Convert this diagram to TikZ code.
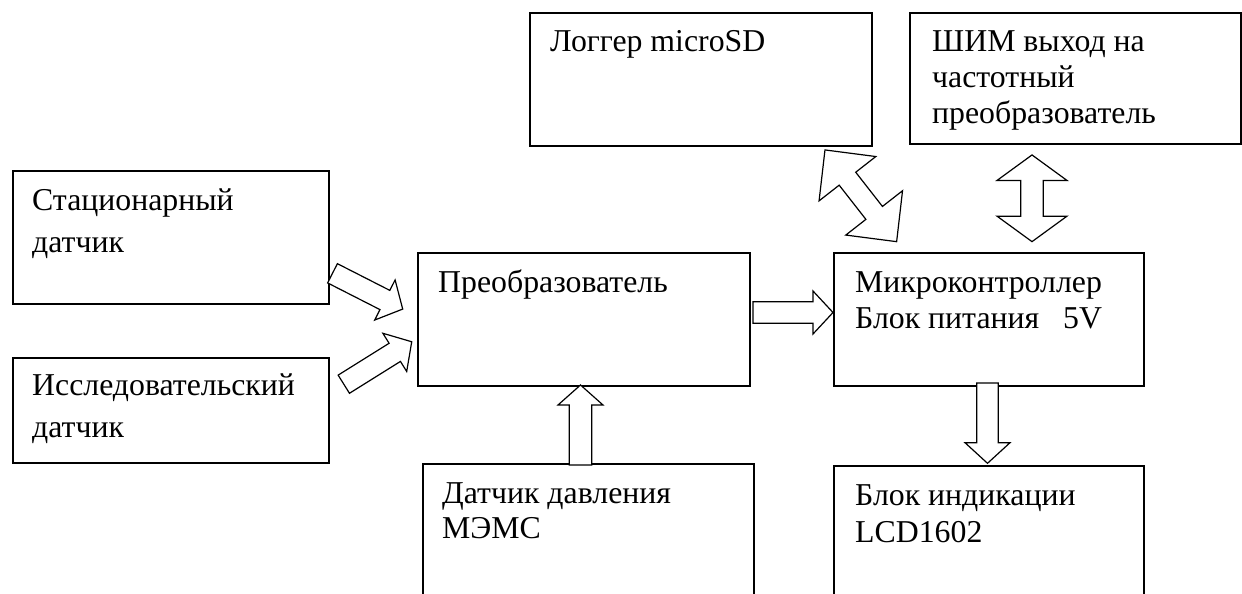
\documentclass[tikz,border=0pt]{standalone}
\usepackage{fontspec}
\setmainfont{Liberation Serif}
\tikzset{
  box/.style={draw=black, line width=1.6pt, rectangle, inner sep=0pt, anchor=north west},
  lbl/.style={anchor=base west, inner sep=0pt, font=\fontsize{31.8}{36}\selectfont},
  barrow/.style={draw=black, line width=1.2pt, line join=miter, fill=white}
}
% single block arrow: tail point, angle, length, shaft half-width, head half-width, head length
\newcommand{\barr}[6]{\draw[barrow,shift={(#1)},rotate=#2] (0,-#4) -- ({#3-#6},-#4) -- ({#3-#6},-#5) -- (#3,0) -- ({#3-#6},#5) -- ({#3-#6},#4) -- (0,#4) -- cycle;}
% double block arrow: centre, angle, length, shaft half-width, head half-width, head length
\newcommand{\dbarr}[6]{\draw[barrow,shift={(#1)},rotate=#2] ({-#3/2+#6},-#4) -- ({#3/2-#6},-#4) -- ({#3/2-#6},-#5) -- ({#3/2},0) -- ({#3/2-#6},#5) -- ({#3/2-#6},#4) -- ({-#3/2+#6},#4) -- ({-#3/2+#6},#5) -- ({-#3/2},0) -- ({-#3/2+#6},-#5) -- cycle;}
\begin{document}
\begin{tikzpicture}[x=1pt,y=-1pt]
\useasboundingbox (0,0) rectangle (1242,594);
\clip (0,0) rectangle (1242,594);
% boxes
\node[box, minimum width=316pt, minimum height=133pt] (b1) at (12,170) {};
\node[box, minimum width=316pt, minimum height=105pt] (b2) at (12,357) {};
\node[box, minimum width=332pt, minimum height=133pt] (conv) at (417,252) {};
\node[box, minimum width=310pt, minimum height=133pt] (mcu) at (833,252) {};
\node[box, minimum width=342pt, minimum height=133pt] (log) at (529,12) {};
\node[box, minimum width=331pt, minimum height=131pt] (pwm) at (909,12) {};
\node[box, minimum width=331pt, minimum height=160pt] (mems) at (422,463) {};
\node[box, minimum width=310pt, minimum height=160pt] (lcd) at (833,465) {};
% texts
\node[lbl] (t1a) at (32,210) {Стационарный};
\node[lbl] (t1b) at (32,252) {датчик};
\node[lbl] (t2a) at (32,395) {Исследовательский};
\node[lbl] (t2b) at (32,437) {датчик};
\node[lbl] (t3) at (438,292) {Преобразователь};
\node[lbl] (t4a) at (855,292) {Микроконтроллер};
\node[lbl] (t4b) at (855,328) {Блок питания\hspace*{0.75em}5V};
\node[lbl] (t5) at (550,52) {Логгер microSD};
\node[lbl] (t6a) at (932,52) {ШИМ выход на};
\node[lbl] (t6b) at (932,88) {частотный};
\node[lbl] (t6c) at (932,123) {преобразователь};
\node[lbl] (t7a) at (442,503) {Датчик давления};
\node[lbl] (t7b) at (442,538) {МЭМС};
\node[lbl] (t8a) at (855,505) {Блок индикации};
\node[lbl] (t8b) at (855,542) {LCD1602};
% block arrows
\barr{332.5,273.3}{-27}{78.8}{10.8}{22.5}{20}
\barr{343.8,384.2}{32}{80.1}{10.7}{22.5}{20}
\barr{753,312.5}{0}{80}{10.8}{21.5}{20}
\barr{987.5,383}{-90}{80.3}{10.8}{22.5}{20.6}
\barr{580.5,465}{90}{80}{11.2}{22.5}{20}
\dbarr{1032,198.3}{90}{86.7}{11.3}{35}{25.5}
\dbarr{860.8,195.8}{-52}{116.4}{10.5}{36}{36.5}
\end{tikzpicture}
\end{document}
